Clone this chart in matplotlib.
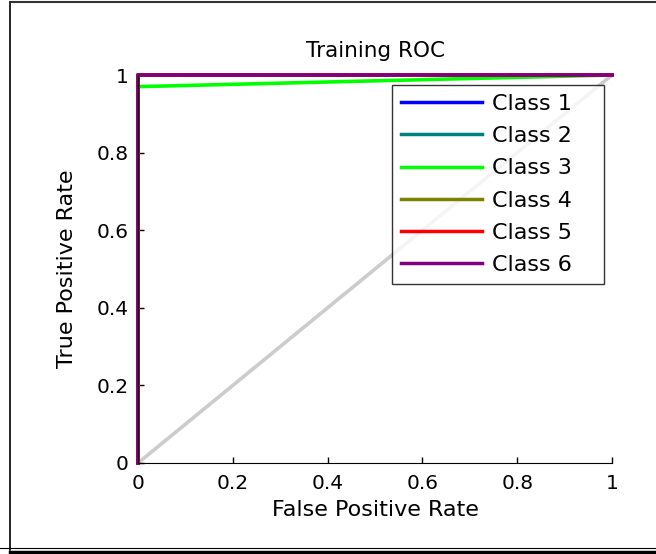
import matplotlib
matplotlib.use('Agg')
import matplotlib.pyplot as plt
from matplotlib.lines import Line2D

plt.rcParams['font.family'] = ['DejaVu Sans']

# ROC points per class (false positive rate, true positive rate)
classes = ['Class 1', 'Class 2', 'Class 3', 'Class 4', 'Class 5', 'Class 6']
colors = ['#0000ff', '#008080', '#00ff00', '#808000', '#ff0000', '#800080']
fpr = [[0, 0, 1], [0, 0, 1], [0, 0, 1], [0, 0, 1], [0, 0, 1], [0, 0, 1]]
tpr = [[0, 1, 1], [0, 1, 1], [0, 0.97, 1], [0, 1, 1], [0, 1, 1], [0, 1, 1]]
diag = [0, 1]
ticks = [0, 0.2, 0.4, 0.6, 0.8, 1]
tick_labels = ['0', '0.2', '0.4', '0.6', '0.8', '1']

fig = plt.figure(figsize=(6.56, 5.54), dpi=100)
ax = fig.add_axes([0.2104, 0.1643, 0.7226, 0.7003])

ax.plot(diag, diag, color='#cccccc', lw=2.6, zorder=1)
for c, col, x, y in zip(classes, colors, fpr, tpr):
    ax.plot(x, y, color=col, lw=2.6, label=c, clip_on=False)

ax.set_xlim(0, 1)
ax.set_ylim(0, 1)
ax.set_xticks(ticks)
ax.set_xticklabels(tick_labels)
ax.set_yticks(ticks)
ax.set_yticklabels(tick_labels)
ax.tick_params(direction='in', length=4, width=1, labelsize=14.5)
ax.tick_params(axis='x', pad=8)
ax.tick_params(axis='y', pad=7)
ax.spines['top'].set_visible(False)
ax.spines['right'].set_visible(False)

ax.set_title('Training ROC', fontsize=15.5, pad=13)
ax.set_xlabel('False Positive Rate', fontsize=16, labelpad=5)
ax.set_ylabel('True Positive Rate', fontsize=16, labelpad=14)

leg = ax.legend(loc='upper left', bbox_to_anchor=(0.536, 0.472, 0.447, 0.502),
                mode='expand', fontsize=16,
                handlelength=3.65, handletextpad=0.45, labelspacing=0.55,
                borderpad=0.4, borderaxespad=0, fancybox=False, frameon=True)
leg.get_frame().set_edgecolor('black')
leg.get_frame().set_linewidth(1)
for h in leg.legend_handles:
    h.set_linewidth(2.5)

# outer frame of the exported figure
fig.add_artist(Line2D([9.5 / 656, 9.5 / 656], [1 - 2 / 554, 1 - 550 / 554], color='black', lw=1.2))
fig.add_artist(Line2D([9.5 / 656, 1], [1 - 1.5 / 554, 1 - 1.5 / 554], color='#333333', lw=1.5))
fig.add_artist(Line2D([0, 1], [1 - 547.5 / 554, 1 - 547.5 / 554], color='black', lw=0.8))
fig.add_artist(Line2D([9.5 / 656, 1], [1 - 551.5 / 554, 1 - 551.5 / 554], color='black', lw=2.5))

fig.savefig('out.png', dpi=100)
